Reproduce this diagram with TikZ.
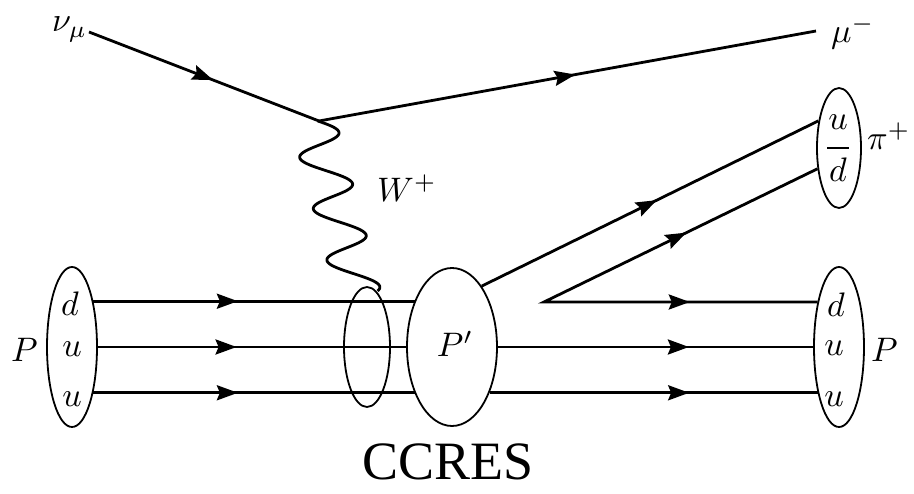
\documentclass[tikz,border=0pt]{standalone}
\usepackage{graphicx}
\usepackage[no-math]{fontspec}
\newfontfamily\ccfont{Liberation Serif}
\usetikzlibrary{shapes.geometric, arrows.meta, decorations.markings}
\newcommand\slab[1]{\scalebox{3.4}{$#1$}}
\tikzset{
  fline/.style={line width=2.8pt},
  marr/.style={postaction={decorate, decoration={markings,
      mark=at position #1 with {\arrow{Stealth[length=21pt,width=15pt,inset=3pt]}}}}},
  marrrev/.style={postaction={decorate, decoration={markings,
      mark=at position #1 with {\arrowreversed{Stealth[length=21pt,width=15pt,inset=3pt]}}}}},
  blob/.style={draw, ellipse, line width=1.8pt, inner sep=0pt},
  lab/.style={inner sep=0pt},
  wline/.style={line width=2.8pt, line join=round},
}
\begin{document}
\begin{tikzpicture}[x=1pt,y=-1pt]
\useasboundingbox (0,0) rectangle (914,494);
% blobs
\node[blob, minimum width=50pt, minimum height=160pt] (Pl) at (72,347) {};
\node[blob, minimum width=46pt, minimum height=120pt] (Wb) at (367,347) {};
\node[blob, minimum width=90pt, minimum height=158pt] (Pp) at (452,347) {};
\node[blob, minimum width=50pt, minimum height=160pt] (Pr) at (839,347) {};
\node[blob, minimum width=44pt, minimum height=120pt] (Pi) at (839,148) {};
% coordinates
\coordinate (V) at (319,121);
\coordinate (nu) at (89,32);
\coordinate (mu) at (816,31);
\coordinate (J) at (544,302);
% lepton lines
\draw[fline, marr=0.54] (nu) -- (V);
\draw[fline, marr=0.516] (V) -- (mu);
% W boson
\draw[wline] plot[domain=0:1, samples=160, smooth, variable=\s]
  ({313+45*\s+23*cos(-78+1190*\s)}, {121+170*\s});
% incoming quarks
\draw[fline, marr=0.45] (Pl.65) -- (Pl.65 -| Pp.129.4);
\draw[fline, marr=0.45] (Pl.east) -- (Pp.west);
\draw[fline, marr=0.45] (Pl.-65) -- (Pl.-65 -| Pp.-129.4);
% outgoing
\draw[fline, marr=0.52] (Pp.64) -- (Pi.127.3);
\draw[fline, line join=miter, marrrev=145.8pt, marr=450pt] (Pi.224) -- (J) -- (J -| Pr.115);
\draw[fline, marr=0.606] (Pp.east) -- (Pr.west);
\draw[fline, marr=0.608] (Pr.-115 -| Pp.-50.6) -- (Pr.-115);
% labels
\node[lab, anchor=base west] (lnu) at (52,32) {\slab{\nu_\mu}};
\node[lab, anchor=base west] (lmu) at (831,43) {\slab{\mu^-}};
\node[lab, anchor=base west] (lW) at (377,202) {\slab{W^+}};
\node[lab, anchor=base west] (lpi) at (867,150) {\slab{\pi^+}};
\node[lab, anchor=base west] (lPl) at (11,362) {\slab{P}};
\node[lab, anchor=base west] (lPr) at (871,362) {\slab{P}};
\node[lab, anchor=base] (qd1) at (70,316) {\slab{d}};
\node[lab, anchor=base] (qu1) at (72,357) {\slab{u}};
\node[lab, anchor=base] (qu2) at (72,407) {\slab{u}};
\node[lab, anchor=base] (qd2) at (836,317) {\slab{d}};
\node[lab, anchor=base] (qu3) at (834,356) {\slab{u}};
\node[lab, anchor=base] (qu4) at (834,407) {\slab{u}};
\node[lab, anchor=base] (piu) at (838,130) {\slab{u}};
\node[lab, anchor=base] (pid) at (838,182) {\slab{\overline{\mkern1mu d\rule{0pt}{8.6pt}\mkern1mu}}};
\node[lab, anchor=base] (lPp) at (455,357) {\slab{P'}};
\node[inner sep=0pt, anchor=base, font=\ccfont\fontsize{54}{58}\selectfont] (cc) at (448,480) {CCRES};
\end{tikzpicture}
\end{document}
